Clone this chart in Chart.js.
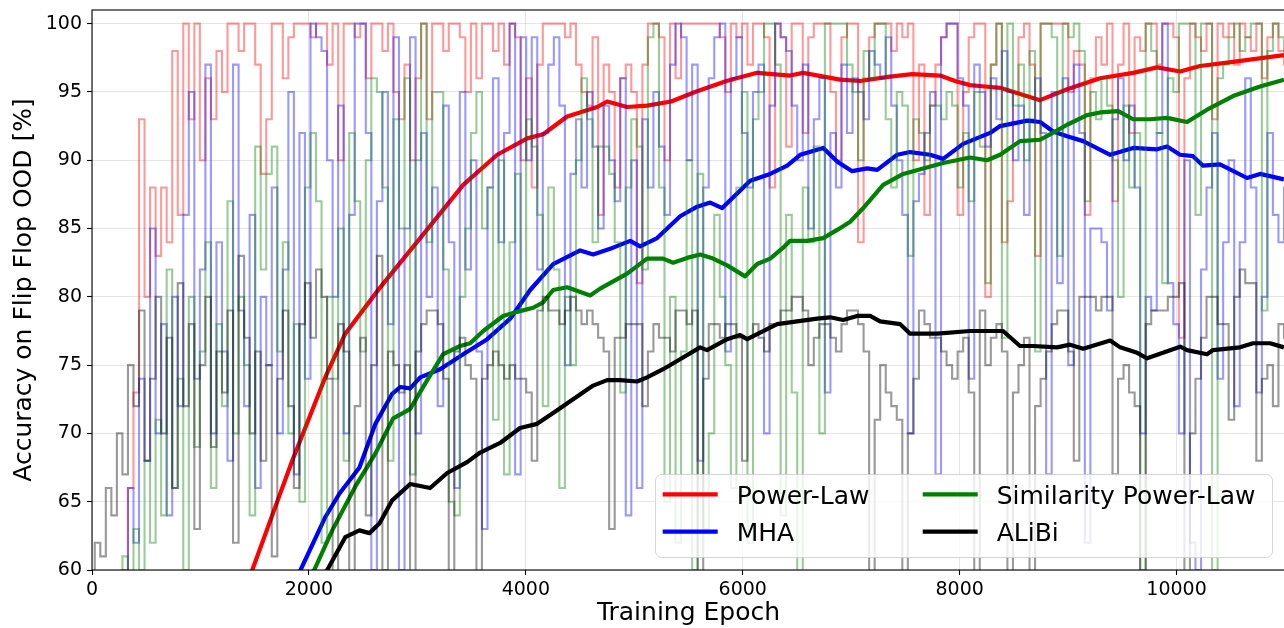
<!DOCTYPE html>
<html>
<head>
<meta charset="utf-8">
<script src="https://cdn.jsdelivr.net/npm/chart.js@4.4.1/dist/chart.umd.min.js"></script>
<style>
  html, body { margin: 0; padding: 0; background: #fff; overflow: hidden; width: 1284px; height: 628px; }
  canvas { display: block; }
</style>
</head>
<body>
<canvas id="chart" width="1300" height="628"></canvas>
<script>
// Flip Flop OOD accuracy over training: raw evaluation logs plus running trend per method.
const methods = ['Power-Law', 'MHA', 'Similarity Power-Law', 'ALiBi'];
const xTickValues = [0, 2000, 4000, 6000, 8000, 10000];
const yTickValues = [60, 65, 70, 75, 80, 85, 90, 95, 100];

// evaluation was logged every `evalEvery` epochs
const evalEvery = 51;

const powerLawRaw = [
  50, 50, 50, 50, 52, 55, 60, 66, 73, 93,
  80, 88, 83, 88, 84, 98, 86, 100, 93, 100,
  90, 96, 93, 98, 95, 100, 100, 98, 100, 100,
  97, 89, 93, 100, 100, 96, 99, 100, 100, 100,
  99, 100, 100, 97, 100, 90, 100, 100, 99, 100,
  96, 100, 100, 98, 100, 95, 93, 97, 90, 96,
  100, 93, 100, 100, 98, 100, 100, 99, 95, 100,
  96, 100, 100, 98, 100, 97, 100, 99, 90, 96,
  88, 97, 100, 100, 100, 100, 99, 100, 97, 95,
  94, 99, 86, 97, 95, 88, 96, 97, 95, 81,
  97, 100, 100, 99, 90, 100, 96, 100, 100, 100,
  100, 100, 100, 100, 99, 95, 100, 99, 100, 97,
  100, 100, 99, 88, 100, 99, 91, 100, 100, 92,
  99, 100, 100, 100, 95, 90, 99, 100, 100, 84,
  96, 99, 100, 100, 100, 98, 100, 99, 100, 90,
  97, 86, 94, 97, 99, 100, 100, 86, 95, 99,
  100, 100, 80, 97, 100, 84, 87, 95, 99, 100,
  97, 83, 100, 100, 100, 100, 100, 95, 98, 97,
  86, 96, 99, 97, 100, 87, 97, 100, 92, 99,
  98, 100, 100, 97, 100, 100, 99, 77, 96, 100,
  99, 98, 100, 93, 100, 99, 100, 97, 100, 99,
  98, 100, 96, 99, 100, 98, 97
];

const mhaRaw = [
  50, 50, 50, 50, 50, 55, 58, 66, 62, 74,
  68, 85, 70, 78, 64, 80, 72, 86, 95, 74,
  82, 97, 70, 84, 76, 68, 97, 79, 72, 86,
  66, 80, 75, 88, 70, 82, 95, 67, 92, 74,
  100, 99, 98, 90, 80, 94, 70, 86, 100, 100,
  92, 60, 87, 95, 78, 99, 60, 85, 99, 70,
  92, 80, 88, 72, 94, 84, 66, 95, 82, 90,
  76, 63, 88, 96, 84, 92, 100, 67, 99, 90,
  99, 82, 92, 97, 99, 94, 75, 89, 93, 88,
  95, 91, 85, 94, 90, 87, 96, 64, 90, 66,
  93, 88, 95, 91, 86, 97, 100, 99, 90, 97,
  68, 88, 96, 99, 100, 76, 96, 99, 92, 88,
  95, 97, 70, 94, 100, 99, 98, 94, 90, 97,
  85, 93, 96, 73, 92, 88, 97, 92, 96, 95,
  93, 98, 97, 96, 99, 94, 90, 86, 70, 87,
  89, 92, 95, 67, 99, 100, 100, 96, 94, 74,
  97, 95, 91, 96, 93, 98, 95, 90, 94, 86,
  93, 96, 92, 67, 95, 81, 96, 75, 97, 92,
  62, 85, 85, 84, 79, 93, 96, 90, 94, 88,
  70, 80, 79, 92, 100, 81, 78, 70, 90, 62,
  60, 82, 88, 92, 74, 84, 90, 72, 84, 96,
  88, 73, 80, 92, 86, 84, 88
];

const similarityRaw = [
  50, 50, 50, 50, 52, 56, 61, 58, 63, 60,
  68, 62, 71, 64, 82, 66, 74, 60, 80, 69,
  76, 84, 66, 78, 72, 87, 70, 80, 75, 64,
  91, 82, 89, 91, 76, 84, 70, 78, 65, 88,
  92, 87, 62, 80, 74, 85, 68, 92, 87, 76,
  90, 96, 95, 88, 68, 93, 85, 96, 67, 90,
  100, 84, 95, 95, 82, 65, 64, 80, 85, 92,
  95, 85, 88, 71, 90, 67, 84, 89, 79, 93,
  91, 86, 72, 88, 82, 66, 80, 75, 90, 96,
  93, 84, 91, 91, 89, 84, 73, 88, 93, 91,
  82, 99, 100, 88, 65, 80, 62, 76, 90, 60,
  89, 63, 70, 86, 80, 75, 66, 88, 95, 62,
  93, 95, 100, 100, 97, 64, 86, 73, 59, 88,
  84, 91, 70, 100, 100, 100, 100, 97, 95, 90,
  98, 96, 100, 100, 93, 88, 95, 94, 83, 93,
  92, 90, 94, 94, 93, 95, 94, 88, 92, 87,
  95, 91, 81, 97, 100, 77, 100, 94, 97, 90,
  98, 76, 100, 100, 99, 83, 100, 99, 100, 98,
  87, 95, 93, 96, 94, 90, 80, 94, 88, 92,
  60, 100, 98, 92, 81, 96, 95, 100, 100, 100,
  86, 100, 100, 60, 96, 97, 99, 100, 98, 99,
  100, 100, 79, 98, 100, 99, 98
];

const alibiRaw = [
  58, 62, 61, 66, 64, 70, 67, 75, 72, 79,
  68, 74, 80, 70, 77, 66, 81, 72, 78, 63,
  75, 80, 69, 76, 73, 79, 62, 83, 77, 70,
  76, 68, 75, 61, 74, 79, 72, 66, 78, 81,
  77, 82, 80, 74, 59, 78, 76, 58, 72, 77,
  64, 75, 83, 60, 76, 75, 73, 75, 59, 76,
  78, 79, 79, 78, 74, 59, 76, 77, 75, 74,
  59, 74, 75, 76, 75, 74, 75, 74, 74, 73,
  68, 79, 80, 79, 79, 78, 79, 80, 79, 78,
  79, 78, 77, 76, 63, 77, 77, 78, 78, 78,
  72, 76, 78, 77, 77, 76, 79, 79, 78, 79,
  59, 74, 78, 78, 77, 78, 78, 77, 68, 77,
  78, 77, 76, 78, 78, 79, 79, 80, 80, 79,
  75, 77, 78, 78, 77, 76, 78, 79, 79, 78,
  76, 59, 71, 75, 73, 72, 71, 59, 70, 74,
  79, 78, 77, 77, 76, 75, 74, 76, 77, 73,
  59, 79, 75, 77, 78, 76, 59, 73, 75, 77,
  59, 72, 74, 76, 78, 79, 79, 76, 68, 80,
  80, 80, 79, 80, 80, 67, 74, 75, 73, 72,
  59, 78, 79, 79, 79, 80, 80, 81, 59, 70,
  74, 77, 80, 80, 78, 78, 71, 80, 82, 81,
  81, 68, 74, 75, 72, 78, 77
];

// running-average trends (epoch, accuracy)
const powerLawTrendEpochs = [1420, 1478, 1680, 1846, 2150, 2335, 2648, 3026, 3423, 3736, 4013, 4160, 4381, 4658, 4750, 4934, 5118, 5340, 5560, 5850, 6133, 6437, 6557, 6898, 7082, 7340, 7562, 7820, 7958, 8096, 8234, 8373, 8742, 8991, 9295, 9600, 9821, 10033, 10217, 10521, 10990];
const powerLawTrend = [59.0, 60.0, 64.4, 68.0, 74.1, 77.3, 80.6, 84.3, 88.2, 90.4, 91.6, 91.9, 93.2, 93.9, 94.3, 93.9, 94.0, 94.3, 95.0, 95.8, 96.4, 96.2, 96.4, 95.9, 95.8, 96.1, 96.3, 96.2, 95.8, 95.5, 95.4, 95.3, 94.4, 95.2, 96.0, 96.4, 96.8, 96.5, 96.9, 97.2, 97.7];

const mhaTrendEpochs = [1880, 1923, 2153, 2282, 2466, 2613, 2768, 2842, 2934, 3026, 3210, 3423, 3644, 3856, 4040, 4252, 4501, 4621, 4805, 4962, 5054, 5211, 5423, 5580, 5700, 5811, 6069, 6253, 6410, 6530, 6742, 6871, 7009, 7147, 7240, 7424, 7544, 7728, 7848, 8032, 8281, 8373, 8622, 8742, 8862, 8991, 9139, 9388, 9600, 9821, 9913, 10032, 10152, 10244, 10401, 10650, 10770, 10990];
const mhaTrend = [59.6, 60.0, 63.9, 65.6, 67.5, 70.7, 72.9, 73.4, 73.3, 74.1, 74.7, 75.8, 76.9, 78.4, 80.5, 82.4, 83.4, 83.1, 83.6, 84.1, 83.7, 84.3, 85.9, 86.6, 86.9, 86.5, 88.5, 89.0, 89.6, 90.4, 90.9, 89.9, 89.2, 89.4, 89.3, 90.4, 90.6, 90.4, 90.1, 91.2, 92.0, 92.5, 92.9, 92.8, 92.1, 91.75, 91.4, 90.4, 90.9, 90.8, 91.0, 90.4, 90.3, 89.6, 89.7, 88.7, 89.0, 88.6];

const similarityTrendEpochs = [1990, 2049, 2215, 2427, 2611, 2777, 2870, 2934, 3091, 3238, 3395, 3487, 3607, 3791, 3920, 4068, 4160, 4252, 4381, 4593, 4685, 4934, 5118, 5266, 5358, 5487, 5607, 5727, 5856, 6022, 6133, 6253, 6373, 6437, 6594, 6742, 6871, 6991, 7111, 7295, 7480, 7664, 7848, 8096, 8253, 8373, 8557, 8742, 8834, 8991, 9175, 9295, 9461, 9600, 9756, 9913, 10097, 10281, 10521, 10770, 10990];
const similarityTrend = [59.5, 60.0, 62.9, 66.1, 68.5, 71.1, 71.5, 71.8, 73.9, 75.8, 76.4, 76.6, 77.5, 78.6, 78.9, 79.2, 79.6, 80.5, 80.7, 80.1, 80.6, 81.7, 82.8, 82.8, 82.5, 82.85, 83.1, 82.8, 82.3, 81.5, 82.4, 82.8, 83.6, 84.1, 84.1, 84.3, 84.9, 85.5, 86.5, 88.2, 89.0, 89.4, 89.8, 90.2, 90.0, 90.4, 91.4, 91.5, 91.9, 92.6, 93.3, 93.5, 93.6, 93.0, 93.0, 93.1, 92.8, 93.7, 94.7, 95.4, 95.9];

const alibiTrendEpochs = [2120, 2169, 2335, 2466, 2558, 2650, 2768, 2934, 3118, 3275, 3459, 3579, 3763, 3947, 4104, 4252, 4436, 4621, 4750, 4870, 5026, 5118, 5266, 5395, 5607, 5671, 5856, 5976, 6041, 6317, 6502, 6686, 6806, 6926, 7055, 7175, 7267, 7452, 7544, 7793, 8096, 8400, 8557, 8677, 8898, 9018, 9139, 9388, 9480, 9637, 9729, 10033, 10097, 10281, 10336, 10585, 10705, 10862, 10990];
const alibiTrend = [59.6, 60.0, 62.4, 62.9, 62.7, 63.4, 65.1, 66.3, 66.0, 67.1, 67.9, 68.6, 69.3, 70.4, 70.7, 71.5, 72.5, 73.5, 73.9, 73.9, 73.8, 74.1, 74.7, 75.3, 76.3, 76.1, 76.9, 77.2, 76.9, 78.0, 78.2, 78.4, 78.5, 78.3, 78.6, 78.6, 78.2, 78.0, 77.3, 77.3, 77.5, 77.5, 76.4, 76.4, 76.3, 76.5, 76.2, 76.8, 76.3, 75.9, 75.5, 76.35, 76.1, 75.8, 76.1, 76.3, 76.6, 76.6, 76.3];

const FONT = '"DejaVu Sans", sans-serif';
const logPoints = ys => ys.map((y, i) => ({ x: i * evalEvery, y }));
const trendPoints = (xs, ys) => xs.map((x, i) => ({ x, y: ys[i] }));

// raw logs hold each evaluation until the next one
const rawLine = (data, color, order) => ({
  data, borderColor: color, borderWidth: 2.1, pointRadius: 0,
  stepped: 'middle', clip: 0, order, borderJoinStyle: 'miter'
});
const trendLine = (label, data, color, order) => ({
  label, trend: true, data, borderColor: color, borderWidth: 4.2, pointRadius: 0,
  tension: 0, clip: 0, order, borderJoinStyle: 'round', borderCapStyle: 'butt'
});

// per method: raw log underneath, its trend on top; later methods drawn over earlier ones
const datasets = [
  rawLine(logPoints(powerLawRaw), 'rgba(255,0,0,0.4)', 8),
  trendLine(methods[0], trendPoints(powerLawTrendEpochs, powerLawTrend), '#ff0000', 7),
  rawLine(logPoints(mhaRaw), 'rgba(0,0,255,0.4)', 6),
  trendLine(methods[1], trendPoints(mhaTrendEpochs, mhaTrend), '#0000ff', 5),
  rawLine(logPoints(similarityRaw), 'rgba(0,128,0,0.4)', 4),
  trendLine(methods[2], trendPoints(similarityTrendEpochs, similarityTrend), '#008000', 3),
  rawLine(logPoints(alibiRaw), 'rgba(0,0,0,0.4)', 2),
  trendLine(methods[3], trendPoints(alibiTrendEpochs, alibiTrend), '#000000', 1)
];

// axes frame on all four sides
const framePlugin = {
  id: 'frame',
  afterDatasetsDraw(chart) {
    const { ctx, chartArea: a } = chart;
    ctx.save();
    ctx.strokeStyle = '#000';
    ctx.lineWidth = 1.1;
    ctx.strokeRect(a.left, a.top, a.right - a.left, a.bottom - a.top);
    ctx.restore();
  }
};

// two-column legend in the lower right corner, filled column by column
const trendLegend = {
  id: 'trendLegend',
  afterDraw(chart) {
    const { ctx, chartArea: a } = chart;
    const w = 617, h = 83;
    const right = a.right - 13, bottom = a.bottom - 13;
    const left = right - w, top = bottom - h;
    ctx.save();
    ctx.beginPath();
    ctx.roundRect(left + 0.5, top + 0.5, w, h, 6);
    ctx.fillStyle = 'rgba(255,255,255,0.8)';
    ctx.fill();
    ctx.strokeStyle = 'rgba(204,204,204,0.8)';
    ctx.lineWidth = 1;
    ctx.stroke();

    const trends = chart.data.datasets.filter(d => d.trend);
    const colX = [left + 7.7, left + 267.7];
    const rowY = [top + 20.3, top + 57.7];
    ctx.font = '25px ' + FONT;
    ctx.textBaseline = 'alphabetic';
    ctx.textAlign = 'left';
    trends.forEach((d, i) => {
      const col = Math.floor(i / 2), row = i % 2;
      const x = colX[col], y = rowY[row];
      ctx.beginPath();
      ctx.moveTo(x, y);
      ctx.lineTo(x + 55, y);
      ctx.strokeStyle = d.borderColor;
      ctx.lineWidth = 4.2;
      ctx.lineCap = 'butt';
      ctx.stroke();
      ctx.fillStyle = '#000';
      ctx.fillText(d.label, x + 74, y + 9.5);
    });
    ctx.restore();
  }
};

Chart.defaults.color = '#000';
Chart.defaults.font.family = FONT;

new Chart(document.getElementById('chart'), {
  type: 'line',
  data: { datasets },
  options: {
    responsive: false,
    animation: false,
    devicePixelRatio: 1,
    events: [],
    parsing: false,
    layout: { padding: { left: 0, top: 10, right: 15, bottom: 0 } },
    plugins: { legend: { display: false }, tooltip: { enabled: false } },
    scales: {
      x: {
        type: 'linear', min: 0, max: 11000,
        afterBuildTicks: s => { s.ticks = xTickValues.map(v => ({ value: v })); },
        ticks: { callback: v => String(v), font: { size: 19, family: FONT }, color: '#000', padding: 4, maxRotation: 0, autoSkip: false },
        grid: { color: 'rgba(0,0,0,0.1)', lineWidth: 1, tickLength: 5, tickColor: '#000', tickWidth: 1.1 },
        border: { display: false },
        title: { display: true, text: 'Training Epoch', font: { size: 25, family: FONT }, color: '#000', padding: { top: 0, bottom: 0 } },
        afterFit: s => { s.height = 58; s.paddingLeft = 0; s.paddingRight = 0; }
      },
      y: {
        type: 'linear', min: 60, max: 101,
        afterBuildTicks: s => { s.ticks = yTickValues.map(v => ({ value: v })); },
        ticks: { callback: v => String(v), font: { size: 19, family: FONT }, color: '#000', padding: 5 },
        grid: { color: 'rgba(0,0,0,0.1)', lineWidth: 1, tickLength: 5, tickColor: '#000', tickWidth: 1.1 },
        border: { display: false },
        title: { display: true, text: 'Accuracy on Flip Flop OOD [%]', font: { size: 25, family: FONT }, color: '#000', padding: { top: 9, bottom: 0 } },
        afterFit: s => { s.width = 92; s.paddingTop = 0; s.paddingBottom = 0; }
      }
    }
  },
  plugins: [framePlugin, trendLegend]
});
</script>
</body>
</html>
